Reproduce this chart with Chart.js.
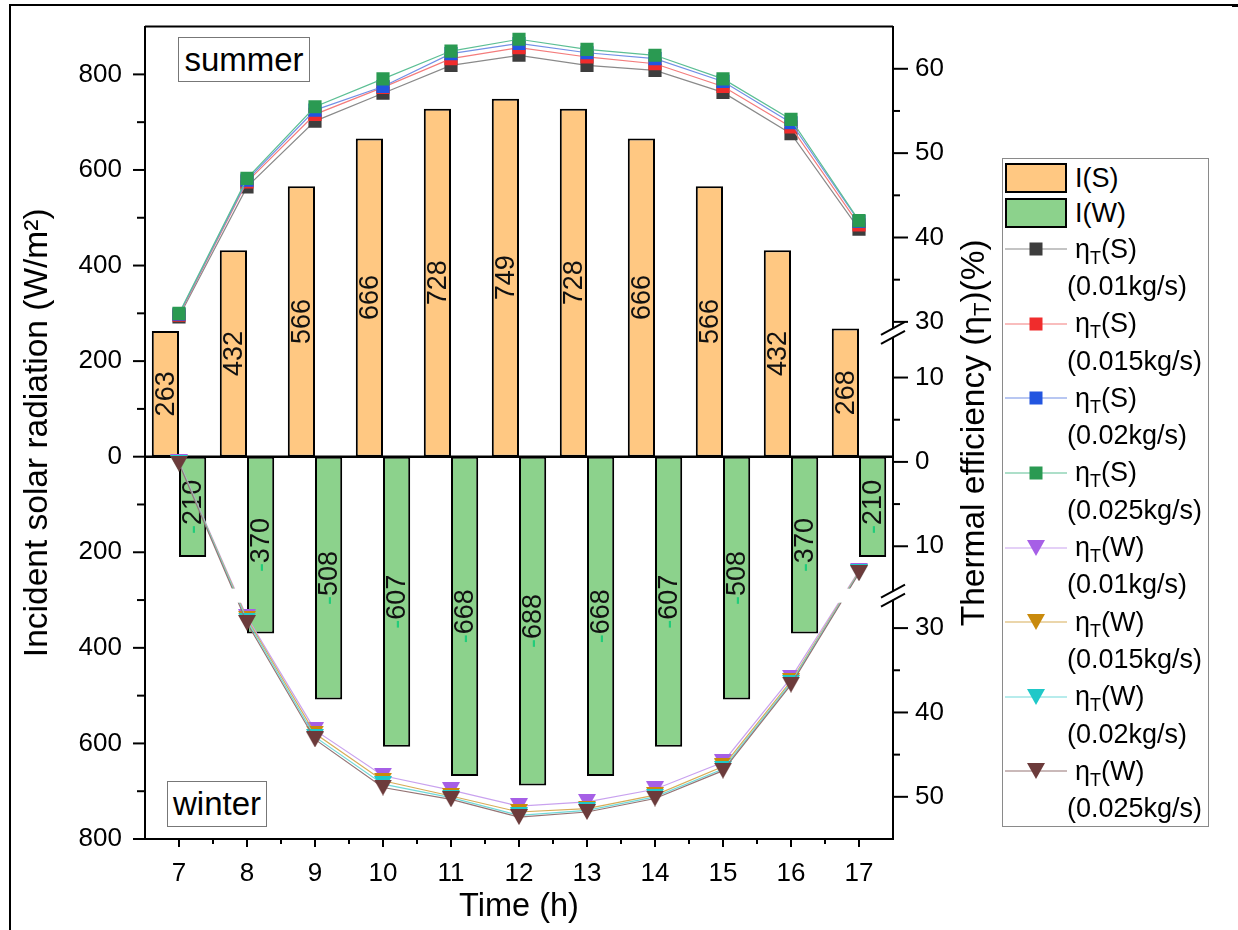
<!DOCTYPE html>
<html>
<head>
<meta charset="utf-8">
<script src="https://cdn.jsdelivr.net/npm/chart.js@4.4.1/dist/chart.umd.min.js"></script>
<style>
  html, body { margin: 0; padding: 0; background: #fff; }
  #wrap { position: relative; width: 1238px; height: 930px; overflow: hidden;
          font-family: 'Liberation Sans', Arial, sans-serif; color: #000; }
  #c { position: absolute; left: 0; top: 0; }
  #frame { position: absolute; left: 9px; top: 4px; width: 1223px; height: 940px;
           border-top: 2px solid #000; border-left: 2px solid #000; }
  #frameCap { position: absolute; left: 1232px; top: 4px; width: 6px; height: 3px; background: #000; }
  .season { position: absolute; box-sizing: border-box; border: 1px solid #777;
            font-size: 33px; text-align: center; background: #fff; }
  #summer { left: 178px; top: 37px; width: 132px; height: 45px; line-height: 43px; }
  #winter { left: 167px; top: 781px; width: 100px; height: 46px; line-height: 44px; }
  #legend { position: absolute; left: 1002px; top: 158px; width: 207px; height: 669px;
            box-sizing: border-box; border: 1px solid #8a8a8a; padding-top: 1.5px; background: #fff; }
  .lrow { display: flex; align-items: center; height: 35px; }
  .lrow.line, .lrow.sub { height: 37.3px; }
  .swatch { flex: none; margin-left: 2px; width: 62px; height: 30px; box-sizing: border-box; border: 2px solid #000; }
  .lrow canvas { flex: none; margin-left: 2px; }
  .ltxt { font-size: 27px; line-height: 1; margin-left: 8px; white-space: nowrap; }
  .lrow.sub .ltxt { margin-left: 64px; }
  .ltxt sub { font-size: 18px; vertical-align: -6px; line-height: 0; }
</style>
</head>
<body>
<div id="wrap">
  <canvas id="c" width="1238" height="930"></canvas>
  <div id="frame"></div>
  <div id="frameCap"></div>
  <div class="season" id="summer">summer</div>
  <div class="season" id="winter">winter</div>
  <div id="legend"></div>
</div>
<script>
// ---- data ----
const hours = ['7', '8', '9', '10', '11', '12', '13', '14', '15', '16', '17'];

// incident solar radiation (W/m2), winter is plotted downwards
const irradSummer = [263, 432, 566, 666, 728, 749, 728, 666, 566, 432, 268];
const irradWinter = [-210, -370, -508, -607, -668, -688, -668, -607, -508, -370, -210];

const flowRates = ['0.01kg/s', '0.015kg/s', '0.02kg/s', '0.025kg/s'];

// thermal efficiency (%), summer
const etaSummer001  = [30.6, 46.0, 53.8, 57.1, 60.4, 61.6, 60.4, 59.8, 57.2, 52.3, 41.0];
const etaSummer0015 = [30.8, 46.6, 54.6, 57.8, 61.2, 62.5, 61.4, 60.6, 57.9, 53.1, 41.5];
const etaSummer002  = [30.9, 46.8, 55.1, 57.9, 61.8, 63.0, 61.9, 61.2, 58.5, 53.6, 41.9];
const etaSummer0025 = [31.0, 47.0, 55.5, 58.8, 62.1, 63.5, 62.3, 61.6, 58.8, 54.0, 42.0];

// thermal efficiency (%), winter
const etaWinter001  = [0.0, 28.7, 42.1, 47.5, 49.2, 51.1, 50.6, 49.1, 45.9, 35.9, 12.9];
const etaWinter0015 = [0.1, 28.9, 42.5, 48.1, 49.9, 51.8, 51.4, 49.8, 46.4, 36.3, 13.0];
const etaWinter002  = [0.1, 29.1, 42.9, 48.5, 50.1, 52.2, 51.6, 50.0, 46.7, 36.5, 13.1];
const etaWinter0025 = [0.2, 29.4, 43.2, 48.9, 50.3, 52.4, 51.8, 50.2, 46.9, 36.7, 13.2];

// axis ticks
const irradTicks = [-800, -600, -400, -200, 0, 200, 400, 600, 800];
const irradMinor = [-700, -500, -300, -100, 100, 300, 500, 700];
const etaTicks = [-50, -40, -30, -10, 0, 10, 30, 40, 50, 60];   // negative = winter half
const etaMinor = [-45, -35, -5, 5, 35, 45, 55];

// ---- styling ----
const FONT = "'Liberation Sans', Arial, sans-serif";
const SUMMER_MARK = ['#3d3d3d', '#f02c2c', '#2255e0', '#2a9a52'];
const SUMMER_LINE = ['#8a8a8a', '#f47c7c', '#7390e6', '#5cbf94'];
const WINTER_MARK = ['#a65fe6', '#c98a0c', '#1fc8c8', '#6c3b3b'];
const WINTER_LINE = ['#c9a2ef', '#d8ad58', '#70dada', '#957474'];

// efficiency axis is broken twice: [value, length in axis units]
const EFF_KNOTS = [[-55, 0], [-27, 28], [-15, 29.7], [0, 44.7], [15, 59.7], [29, 60.3], [65, 96.3]];
const EFF_BREAKS = [[15, 29], [-15, -27]];

// linear scale with piecewise mapping (axis break)
class BrokenScale extends Chart.LinearScale {
  _toUnits(v) {
    const k = EFF_KNOTS;
    let i = 1;
    while (i < k.length - 1 && v > k[i][0]) i++;
    const [v0, u0] = k[i - 1], [v1, u1] = k[i];
    return u0 + (v - v0) / (v1 - v0) * (u1 - u0);
  }
  getPixelForValue(v) {
    if (v === null || v === undefined || isNaN(v)) return NaN;
    const total = EFF_KNOTS[EFF_KNOTS.length - 1][1];
    return this.getPixelForDecimal(this._toUnits(v) / total);
  }
  getValueForPixel(p) {
    const k = EFF_KNOTS, u = this.getDecimalForPixel(p) * k[k.length - 1][1];
    let i = 1;
    while (i < k.length - 1 && u > k[i][1]) i++;
    const [v0, u0] = k[i - 1], [v1, u1] = k[i];
    return v0 + (u - u0) / (u1 - u0) * (v1 - v0);
  }
}
BrokenScale.id = 'broken';
BrokenScale.defaults = Chart.LinearScale.defaults;
Chart.register(BrokenScale);

function downTriangle(color, w = 18, h = 16) {
  const c = document.createElement('canvas');
  c.width = w; c.height = h;
  const g = c.getContext('2d');
  g.fillStyle = color;
  g.beginPath(); g.moveTo(0, 0); g.lineTo(w, 0); g.lineTo(w / 2, h); g.closePath(); g.fill();
  return c;
}

function lineSet(label, data, i, season) {
  const s = season === 'S';
  return {
    type: 'line', label, season, data,
    yAxisID: 'eff',
    borderColor: s ? SUMMER_LINE[i] : WINTER_LINE[i],
    borderWidth: 1.2,
    tension: 0,
    pointStyle: s ? 'rect' : downTriangle(WINTER_MARK[i]),
    pointRadius: s ? 9.3 : 9,
    pointBackgroundColor: s ? SUMMER_MARK[i] : WINTER_MARK[i],
    pointBorderWidth: 0,
    order: 10 - i
  };
}

const summerSets = [etaSummer001, etaSummer0015, etaSummer002, etaSummer0025];
const winterSets = [etaWinter001, etaWinter0015, etaWinter002, etaWinter0025];

const datasets = [
  { type: 'bar', label: 'I(S)', data: irradSummer, backgroundColor: '#ffc882', borderColor: '#000',
    borderWidth: 2, borderSkipped: false, yAxisID: 'y', order: 30 },
  { type: 'bar', label: 'I(W)', data: irradWinter, backgroundColor: '#8cd28c', borderColor: '#000',
    borderWidth: 2, borderSkipped: false, yAxisID: 'y', order: 30 },
  ...summerSets.map((d, i) => lineSet('ηT(S) (' + flowRates[i] + ')', d, i, 'S')),
  // winter efficiencies hang below the zero line
  ...winterSets.map((d, i) => lineSet('ηT(W) (' + flowRates[i] + ')', d.map(v => -v), i, 'W'))
];

// ---- plugins ----
const barLabels = {
  id: 'barLabels',
  afterDatasetDraw(chart, { index, meta }) {
    if (meta.type !== 'bar') return;
    const ctx = chart.ctx, ds = chart.data.datasets[index];
    ctx.save();
    ctx.font = '27px ' + FONT;
    ctx.textBaseline = 'middle';
    ctx.textAlign = 'left';
    meta.data.forEach((bar, i) => {
      const v = ds.data[i];
      const num = String(Math.abs(v)), dash = v < 0 ? '-' : '';
      const wd = ctx.measureText(dash).width, wn = ctx.measureText(num).width;
      ctx.save();
      ctx.translate(bar.x, (bar.y + bar.base) / 2);
      ctx.rotate(-Math.PI / 2);
      let x = -(wd + wn) / 2;
      if (dash) { ctx.fillStyle = '#22cc7a'; ctx.fillText(dash, x, 1); x += wd; }
      ctx.fillStyle = '#111';
      ctx.fillText(num, x, 1);
      ctx.restore();
    });
    ctx.restore();
  }
};

// gap in the winter curves where the efficiency axis is broken
const breakClip = {
  id: 'breakClip',
  beforeDatasetDraw(chart, { index }) {
    if (chart.data.datasets[index].season !== 'W') return;
    const { ctx, chartArea: a, scales: { eff } } = chart;
    const y1 = eff.getPixelForValue(EFF_BREAKS[1][0]), y2 = eff.getPixelForValue(EFF_BREAKS[1][1]);
    ctx.save();
    ctx.beginPath();
    ctx.rect(a.left - 20, a.top - 20, a.width + 40, y1 - a.top + 20);
    ctx.rect(a.left - 20, y2, a.width + 40, a.bottom - y2 + 20);
    ctx.clip();
  },
  afterDatasetDraw(chart, { index }) {
    if (chart.data.datasets[index].season === 'W') chart.ctx.restore();
  }
};

const frameLines = {
  id: 'frameLines',
  beforeDatasetsDraw(chart) {
    const { ctx, chartArea: a, scales: { y } } = chart;
    ctx.save();
    ctx.strokeStyle = '#000';
    ctx.lineWidth = 2;
    ctx.beginPath(); ctx.moveTo(a.left, a.top); ctx.lineTo(a.right, a.top); ctx.stroke();
    ctx.lineWidth = 2.5;
    const y0 = y.getPixelForValue(0);
    ctx.beginPath(); ctx.moveTo(a.left, y0); ctx.lineTo(a.right, y0); ctx.stroke();
    ctx.restore();
  },
  afterDraw(chart) {
    const { ctx, chartArea: a, scales: { x, y, eff } } = chart;
    ctx.save();
    ctx.strokeStyle = '#000';
    ctx.lineWidth = 2;
    const seg = (x1, y1, x2, y2) => { ctx.beginPath(); ctx.moveTo(x1, y1); ctx.lineTo(x2, y2); ctx.stroke(); };
    // x ticks
    hours.forEach((h, i) => {
      const px = x.getPixelForValue(i);
      seg(px, a.bottom, px, a.bottom + 8);
      if (i < hours.length - 1) {
        const pm = x.getPixelForValue(i + 0.5);
        seg(pm, a.bottom, pm, a.bottom + 5);
      }
    });
    // left ticks
    irradTicks.forEach(v => { const p = y.getPixelForValue(v); seg(a.left - 12, p, a.left, p); });
    irradMinor.forEach(v => { const p = y.getPixelForValue(v); seg(a.left - 8, p, a.left, p); });
    // right ticks
    etaTicks.forEach(v => { const p = eff.getPixelForValue(v); seg(a.right, p, a.right + 15, p); });
    etaMinor.forEach(v => { const p = eff.getPixelForValue(v); seg(a.right, p, a.right + 7, p); });
    // break marks on the efficiency axis
    EFF_BREAKS.forEach(([lo, hi]) => {
      const yc = (eff.getPixelForValue(lo) + eff.getPixelForValue(hi)) / 2;
      const xc = a.right;
      ctx.fillStyle = '#fff';
      ctx.beginPath();
      ctx.moveTo(xc - 11, yc + 10); ctx.lineTo(xc + 11, yc - 2);
      ctx.lineTo(xc + 11, yc - 10); ctx.lineTo(xc - 11, yc + 2);
      ctx.closePath(); ctx.fill();
      ctx.lineWidth = 2;
      seg(xc - 12, yc + 11, xc + 12, yc - 2);
      seg(xc - 12, yc + 2, xc + 12, yc - 11);
    });
    // right axis title with subscript
    const p1 = 'Thermal efficiency (η', p2 = 'T', p3 = ')(%)';
    const big = '33.5px ' + FONT, small = '22px ' + FONT;
    ctx.translate(975, (a.top + a.bottom) / 2);
    ctx.rotate(-Math.PI / 2);
    ctx.fillStyle = '#000';
    ctx.textBaseline = 'middle';
    ctx.textAlign = 'left';
    ctx.font = big; const w1 = ctx.measureText(p1).width, w3 = ctx.measureText(p3).width;
    ctx.font = small; const w2 = ctx.measureText(p2).width;
    let tx = -(w1 + w2 + w3) / 2;
    ctx.font = big; ctx.fillText(p1, tx, 0); tx += w1;
    ctx.font = small; ctx.fillText(p2, tx, 8); tx += w2;
    ctx.font = big; ctx.fillText(p3, tx, 0);
    ctx.restore();
  }
};

const tickFont = { family: FONT, size: 26 };

new Chart(document.getElementById('c'), {
  data: { labels: hours, datasets },
  options: {
    responsive: false,
    animation: false,
    events: [],
    layout: { padding: { top: 24, left: 0, right: 0, bottom: 0 } },
    datasets: { bar: { categoryPercentage: 0.8, barPercentage: 1 } },
    plugins: { legend: { display: false }, tooltip: { enabled: false } },
    scales: {
      x: {
        type: 'category', offset: true,
        grid: { display: false, drawTicks: true, tickLength: 8 },
        border: { display: true, color: '#000', width: 2 },
        ticks: { font: tickFont, color: '#000', padding: 11, maxRotation: 0, autoSkip: false },
        title: { display: true, text: 'Time (h)', font: { family: FONT, size: 32.5 }, color: '#000',
                 padding: { top: 0, bottom: 3 } },
        afterFit(s) { s.height = 91; }
      },
      y: {
        type: 'linear', position: 'left', min: -800, max: 900,
        afterBuildTicks(s) { s.ticks = irradTicks.map(v => ({ value: v })); },
        grid: { display: false, drawTicks: true, tickLength: 12 },
        border: { display: true, color: '#000', width: 2 },
        ticks: { font: tickFont, color: '#000', padding: 11, callback: v => Math.abs(v) },
        title: { display: true, text: 'Incident solar radiation (W/m²)', font: { family: FONT, size: 33.5 },
                 color: '#000', padding: { top: 18, bottom: 0 } },
        afterFit(s) { s.width = 145; }
      },
      eff: {
        type: 'broken', position: 'right', min: -55, max: 65,
        afterBuildTicks(s) { s.ticks = etaTicks.map(v => ({ value: v })); },
        grid: { display: false, drawTicks: true, tickLength: 15 },
        border: { display: true, color: '#000', width: 2 },
        ticks: { font: tickFont, color: '#000', padding: 7, callback: v => Math.abs(v) },
        afterFit(s) { s.width = 345; }
      }
    }
  },
  plugins: [frameLines, breakClip, barLabels]
});

// ---- legend ----
const legendEl = document.getElementById('legend');
function addRow(cls, html) {
  const row = document.createElement('div');
  row.className = 'lrow ' + cls;
  row.innerHTML = html;
  legendEl.appendChild(row);
  return row;
}
addRow('bar', '<span class="swatch" style="background:#ffc882"></span><span class="ltxt">I(S)</span>');
addRow('bar', '<span class="swatch" style="background:#8cd28c"></span><span class="ltxt">I(W)</span>');
[['S', SUMMER_LINE, SUMMER_MARK], ['W', WINTER_LINE, WINTER_MARK]].forEach(([season, lines, marks]) => {
  flowRates.forEach((fr, i) => {
    const row = addRow('line', '<canvas width="62" height="24"></canvas><span class="ltxt">η<sub>T</sub>(' + season + ')</span>');
    const g = row.querySelector('canvas').getContext('2d');
    g.strokeStyle = lines[i]; g.lineWidth = 1.2;
    g.beginPath(); g.moveTo(0, 12); g.lineTo(62, 12); g.stroke();
    if (season === 'S') { g.fillStyle = marks[i]; g.fillRect(24.5, 5.5, 13, 13); }
    else g.drawImage(downTriangle(marks[i]), 22, 4);
    addRow('sub', '<span class="ltxt">(' + fr + ')</span>');
  });
});
</script>
</body>
</html>
